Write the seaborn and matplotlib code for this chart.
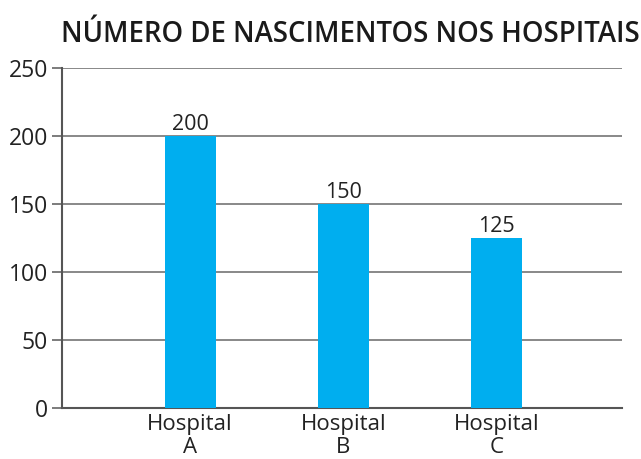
import matplotlib
matplotlib.use('Agg')
import matplotlib.pyplot as plt
import seaborn as sns
import pandas as pd

# data
hospitals = ['Hospital\nA', 'Hospital\nB', 'Hospital\nC']
nascimentos = [200, 150, 125]
y_ticks = [0, 50, 100, 150, 200, 250]

sns.set_theme(style='white')
plt.rcParams['font.family'] = ['Open Sans', 'DejaVu Sans']

df = pd.DataFrame({'hospital': hospitals, 'n': nascimentos})

fig = plt.figure(figsize=(6.41, 4.59), dpi=100)
ax = fig.add_axes([62 / 641, 1 - 408 / 459, 560 / 641, 340 / 459])

sns.barplot(df, x='hospital', y='n', color='#00AEEF', width=0.333,
            saturation=1, linewidth=0, ax=ax, zorder=3)

for i, v in enumerate(nascimentos):
    ax.text(i, v + 0.5, str(v), ha='center', va='bottom', fontsize=15.5,
            color='#222222', zorder=4)

ax.set_ylim(0, 250)
ax.set_xlim(-0.837, 2.82)
ax.set_yticks(y_ticks)
ax.yaxis.grid(True, color='#7f7f7f', linewidth=1.3, zorder=0)
ax.set_axisbelow(True)
ax.tick_params(axis='y', length=7, width=1.2, color='#666666', labelsize=16.5,
               labelcolor='#222222', pad=3, left=True)
ax.tick_params(axis='x', length=0, labelsize=16, labelcolor='#222222', pad=4)
for lab in ax.get_xticklabels():
    lab.set_linespacing(1.15)
ax.set_xlabel('')
ax.set_ylabel('')
for s in ['top', 'right']:
    ax.spines[s].set_visible(False)
for s in ['left', 'bottom']:
    ax.spines[s].set_color('#555555')
    ax.spines[s].set_linewidth(1.5)

fig.text(350 / 641, 1 - 42 / 459, 'NÚMERO DE NASCIMENTOS NOS HOSPITAIS',
         ha='center', va='baseline', fontsize=19.8, fontweight='semibold',
         color='#1a1a1a')

fig.savefig('out.png', dpi=100)
